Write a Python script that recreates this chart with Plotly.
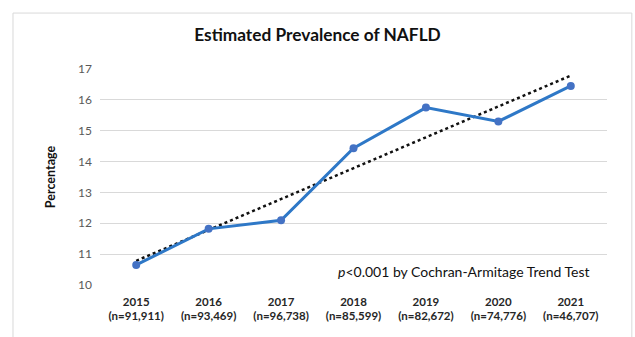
import numpy as np
import plotly.graph_objects as go

years = ["2015", "2016", "2017", "2018", "2019", "2020", "2021"]
sample_sizes = ["91,911", "93,469", "96,738", "85,599", "82,672", "74,776", "46,707"]
prevalence = [10.65, 11.82, 12.10, 14.43, 15.75, 15.30, 16.45]

tick_labels = [f"<b>{y}<br>(n={n})</b>" for y, n in zip(years, sample_sizes)]
idx = np.arange(len(years))

# Linear trend line fitted to the yearly prevalence
slope, intercept = np.polyfit(idx, prevalence, 1)
trend = slope * idx + intercept

fig = go.Figure()
fig.add_trace(go.Scatter(
    x=idx, y=trend, mode="lines",
    line=dict(color="#111111", width=2.5, dash="dot"),
    hoverinfo="skip", showlegend=False,
))
fig.add_trace(go.Scatter(
    x=idx, y=prevalence, mode="lines+markers",
    line=dict(color="#2E78C7", width=3),
    marker=dict(color="#4472C4", size=8),
    showlegend=False,
))

fig.update_layout(
    width=635, height=337,
    margin=dict(l=100, r=28, t=69, b=52),
    paper_bgcolor="white", plot_bgcolor="white",
    font=dict(family="Lato, Open Sans, sans-serif", color="#595959"),
    title=dict(
        text="<b>Estimated Prevalence of NAFLD</b>",
        x=0.5, xanchor="center", y=0.897, yanchor="middle",
        font=dict(size=17.3, color="#111111"),
    ),
    xaxis=dict(
        tickmode="array", tickvals=idx, ticktext=tick_labels,
        range=[-0.5, 6.5], showgrid=False, zeroline=False,
        showline=False, ticks="", ticklabelstandoff=8,
        tickfont=dict(size=11.5, color="#262626"),
    ),
    yaxis=dict(
        range=[10, 17], dtick=1, tick0=10,
        showgrid=True, gridcolor="#D9D9D9", gridwidth=1,
        zeroline=False, showline=False, ticks="", ticklabelstandoff=7,
        tickfont=dict(size=12, color="#595959"),
        title=dict(text="<b>Percentage</b>", font=dict(size=12.5, color="#111111"), standoff=19),
    ),
    annotations=[dict(
        text="<i>p</i><0.001 by Cochran-Armitage Trend Test",
        xref="paper", yref="y", x=0.97, y=10.45, xanchor="right", yanchor="middle",
        showarrow=False, font=dict(size=14, color="#111111"),
    )],
    shapes=[dict(
        type="rect", xref="paper", yref="paper",
        x0=-0.1716, x1=1.049, y0=-0.4, y1=1.259,
        line=dict(color="#D9D9D9", width=1), layer="below",
    )],
)

fig.write_html("out.html")
